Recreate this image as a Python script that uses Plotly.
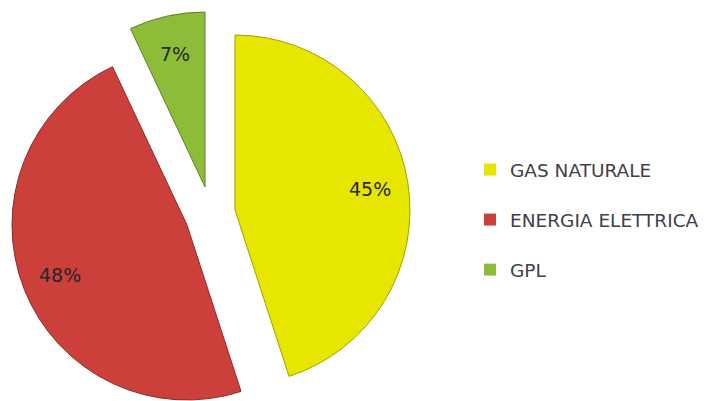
import math
import plotly.graph_objects as go

# ---- data ----
labels = ["GAS NATURALE", "ENERGIA ELETTRICA", "GPL"]
values = [45, 48, 7]

# ---- style ----
colors = ["#E6E600", "#CC403C", "#8DBD38"]
edge_colors = ["#A3A000", "#8C2826", "#5E8224"]

W, H = 708, 401
OFF = 8          # page body margin of the html page
R = 175          # pie radius in px
LABEL_R = 0.78   # radial position of the percent labels
# apex (screen pixel) position of each exploded slice
apex = [(235, 210), (187, 225), (205, 187)]
TRANSPARENT = "rgba(0,0,0,0)"


def to_paper(sx, sy):
    return (sx - OFF) / W, 1 - (sy - OFF) / H


fig = go.Figure()
total = sum(values)
cum = 0
annotations = []
for i in range(len(labels)):
    cx, cy = apex[i]
    fx, fy = to_paper(cx, cy)
    hx = min((R + 4) / W, fx, 1 - fx)
    hy = min(R / H, fy, 1 - fy)
    slice_colors = [colors[j] if j == i else TRANSPARENT for j in range(len(labels))]
    line_colors = [edge_colors[j] if j == i else TRANSPARENT for j in range(len(labels))]
    fig.add_trace(go.Pie(
        labels=labels, values=values, sort=False, direction="clockwise", rotation=0,
        marker=dict(colors=slice_colors, line=dict(color=line_colors, width=1)),
        textinfo="none",
        domain=dict(x=[fx - hx, fx + hx], y=[fy - hy, fy + hy]),
        showlegend=False, hoverinfo="skip",
    ))
    mid = math.radians(360 * (cum + values[i] / 2) / total)
    cum += values[i]
    lx = cx + LABEL_R * R * math.sin(mid)
    ly = cy - LABEL_R * R * math.cos(mid)
    px, py = to_paper(lx, ly)
    annotations.append(dict(
        x=px, y=py, xref="paper", yref="paper", showarrow=False,
        xanchor="center", yanchor="middle",
        text=f"{values[i]}%",
        font=dict(family="DejaVu Sans", size=19, color="#262626"),
    ))

# legend-only entries (zero-size pies)
for i in range(len(labels)):
    fig.add_trace(go.Pie(
        labels=[labels[i]], values=[values[i]],
        marker=dict(colors=[colors[i]], line=dict(width=0)),
        textinfo="none", hoverinfo="skip",
        domain=dict(x=[0, 0.0005], y=[0, 0.0005]),
        legendgroup=labels[i], showlegend=True,
    ))

fig.update_layout(
    width=W, height=H,
    margin=dict(l=0, r=0, t=0, b=0),
    paper_bgcolor="white", plot_bgcolor="white",
    annotations=annotations,
    legend=dict(
        x=(470 - OFF) / W, y=1 - (151 - OFF) / H, xanchor="left", yanchor="top",
        traceorder="grouped", tracegroupgap=23,
        font=dict(family="DejaVu Sans", size=18.5, color="#404048"),
        bgcolor="rgba(0,0,0,0)", itemwidth=30,
    ),
)

fig.write_html("out.html")
